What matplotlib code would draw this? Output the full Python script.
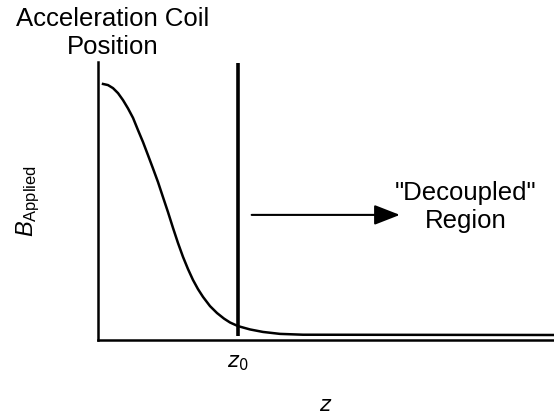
#!/usr/bin/env python3
"""Sketch of the applied field falling off away from the acceleration coil."""

import matplotlib

matplotlib.use("Agg")
import matplotlib.pyplot as plt

# field profile (z in arbitrary units, B normalised)
z_values = [0.110, 0.219, 0.329, 0.439, 0.548, 0.658, 0.768, 0.877, 0.987,
            1.096, 1.206, 1.316, 1.425, 1.535, 1.645, 1.754, 1.864, 1.974,
            2.083, 2.193, 2.303, 2.456, 2.610, 2.763, 2.895, 3.070, 3.333,
            3.618, 3.991, 4.496, 10.0]
b_values = [0.921, 0.917, 0.906, 0.888, 0.863, 0.833, 0.799, 0.755, 0.712,
            0.665, 0.617, 0.568, 0.514, 0.460, 0.403, 0.349, 0.299, 0.255,
            0.216, 0.183, 0.155, 0.122, 0.097, 0.077, 0.063, 0.050, 0.038,
            0.029, 0.022, 0.019, 0.018]

Z0 = 3.07
COIL_LINE = (0.014, 0.996)
ARROW_START = (3.37, 0.45)
ARROW_END = (6.62, 0.45)
REGION_LABEL = (8.07, 0.478)

plt.rcParams["font.family"] = ["Liberation Sans", "DejaVu Sans"]
plt.rcParams["mathtext.fontset"] = "custom"
plt.rcParams["mathtext.rm"] = "Liberation Sans"
plt.rcParams["mathtext.it"] = "Liberation Sans:italic"

fig = plt.figure(figsize=(5.54, 4.17), dpi=100)
ax = fig.add_axes([98 / 554, 77 / 417, 456 / 554, 278 / 417])

ax.plot(z_values, b_values, color="black", linewidth=1.8,
        solid_joinstyle="round")
ax.vlines(Z0, *COIL_LINE, color="black", linewidth=2.6)
ax.annotate(
    "",
    xy=ARROW_END,
    xytext=ARROW_START,
    arrowprops=dict(
        arrowstyle="-|>,head_length=1.05,head_width=0.41",
        mutation_scale=15,
        color="black",
        linewidth=1.5,
        shrinkA=0,
        shrinkB=0,
    ),
)
ax.text(*REGION_LABEL, '"Decoupled"\nRegion', ha="center", va="center",
        fontsize=18.5)

ax.set_xlim(0, 10)
ax.set_ylim(0, 1)
for side in ("top", "right"):
    ax.spines[side].set_visible(False)
for side in ("left", "bottom"):
    ax.spines[side].set_linewidth(1.8)

ax.set_yticks([])
ax.set_xticks([Z0])
ax.set_xticklabels(["$z_0$"], math_fontfamily="dejavusans", fontsize=15)
ax.tick_params(axis="x", length=0, pad=10)
ax.set_xlabel("$z$", math_fontfamily="dejavusans", fontsize=15, labelpad=16)
ax.set_ylabel(r"$B_{\mathrm{Applied}}$", fontsize=17, labelpad=40)

fig.text(113 / 554, 1 - 33 / 417, "Acceleration Coil\nPosition",
         ha="center", va="center", fontsize=18.5)

fig.savefig("out.png", dpi=100)
